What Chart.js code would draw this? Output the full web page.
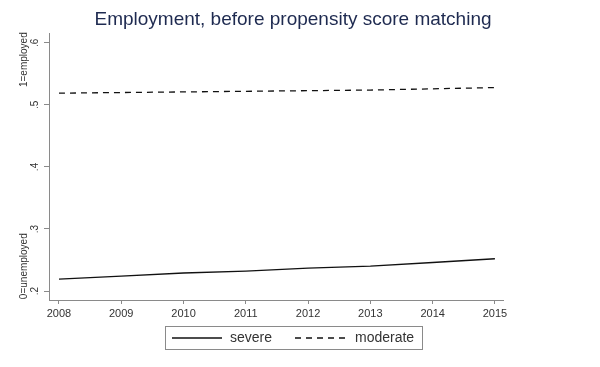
<!DOCTYPE html>
<html lang="en">
<head>
  <meta charset="UTF-8">
  <title>Employment, before propensity score matching</title>
  <script src="https://cdn.jsdelivr.net/npm/chart.js"></script>
  <style>
    html, body { margin: 0; padding: 0; background: #ffffff; }
    canvas { display: block; }
  </style>
</head>
<body>
<canvas id="chart" width="600" height="367"></canvas>

<script>
  // data
  const years = [2008, 2009, 2010, 2011, 2012, 2013, 2014, 2015];
  const severe = [0.219, 0.224, 0.229, 0.232, 0.237, 0.240, 0.246, 0.252];
  const moderate = [0.519, 0.520, 0.521, 0.522, 0.523, 0.524, 0.526, 0.528];
  const yTicks = [0.2, 0.3, 0.4, 0.5, 0.6];
  const seriesNames = ['severe', 'moderate'];
  const sideLabels = [{ text: '1=employed', value: 0.573 }, { text: '0=unemployed', value: 0.24 }];
  const chartTitle = 'Employment, before propensity score matching';

  const FONT = "'Liberation Sans', Arial, sans-serif";
  const AXIS = '#8a8a8a';

  // title, the odd stata side labels and the boxed legend below the plot
  const extras = {
    id: 'extras',
    afterDraw(chart) {
      const c = chart.ctx;
      const y = chart.scales.y;
      c.save();
      c.fillStyle = '#1e2a50';
      c.font = '19px ' + FONT;
      c.textAlign = 'center';
      c.textBaseline = 'middle';
      c.fillText(chartTitle, 293, 20);

      c.fillStyle = '#333';
      c.font = '10px ' + FONT;
      sideLabels.forEach(l => {
        c.save();
        c.translate(24, y.getPixelForValue(l.value));
        c.rotate(-Math.PI / 2);
        c.fillText(l.text, 0, 0);
        c.restore();
      });

      // legend
      c.strokeStyle = AXIS;
      c.lineWidth = 1;
      c.strokeRect(165.5, 326.5, 257, 23);
      c.strokeStyle = '#111';
      c.lineWidth = 1.3;
      c.beginPath(); c.moveTo(172, 338); c.lineTo(222, 338); c.stroke();
      c.setLineDash([6, 5]);
      c.beginPath(); c.moveTo(295, 338); c.lineTo(350, 338); c.stroke();
      c.setLineDash([]);
      c.fillStyle = '#333';
      c.font = '14px ' + FONT;
      c.textAlign = 'left';
      c.fillText(seriesNames[0], 230, 338);
      c.fillText(seriesNames[1], 355, 338);
      c.restore();
    }
  };

  new Chart(document.getElementById('chart'), {
    type: 'line',
    data: {
      datasets: [
        {
          label: seriesNames[0],
          data: years.map((yr, i) => ({ x: yr, y: severe[i] })),
          borderColor: '#111',
          borderWidth: 1.3,
          pointRadius: 0,
          fill: false
        },
        {
          label: seriesNames[1],
          data: years.map((yr, i) => ({ x: yr, y: moderate[i] })),
          borderColor: '#111',
          borderWidth: 1.3,
          borderDash: [6, 5],
          pointRadius: 0,
          fill: false
        }
      ]
    },
    options: {
      responsive: false,
      animation: false,
      layout: { padding: { left: 0, right: 97, top: 33, bottom: 0 } },
      plugins: {
        legend: { display: false },
        tooltip: { enabled: false },
        title: { display: false }
      },
      scales: {
        x: {
          type: 'linear',
          min: 2007.84,
          max: 2015.13,
          afterBuildTicks: s => { s.ticks = years.map(v => ({ value: v })); },
          afterFit: s => { s.height = 67; },
          grid: { drawOnChartArea: false, tickLength: 4, color: AXIS },
          border: { color: AXIS },
          ticks: {
            color: '#333',
            padding: 3,
            maxRotation: 0,
            font: { family: FONT, size: 11 },
            callback: v => String(v)
          }
        },
        y: {
          min: 0.1855,
          max: 0.616,
          afterBuildTicks: s => { s.ticks = yTicks.map(v => ({ value: v })); },
          afterFit: s => { s.width = 49; },
          grid: { drawOnChartArea: false, tickLength: 5, color: AXIS },
          border: { color: AXIS },
          ticks: {
            color: '#333',
            padding: 5,
            minRotation: 90,
            maxRotation: 90,
            crossAlign: 'center',
            font: { family: FONT, size: 10 },
            callback: v => '.' + Math.round(v * 10)
          }
        }
      }
    },
    plugins: [extras]
  });
</script>
</body>
</html>
